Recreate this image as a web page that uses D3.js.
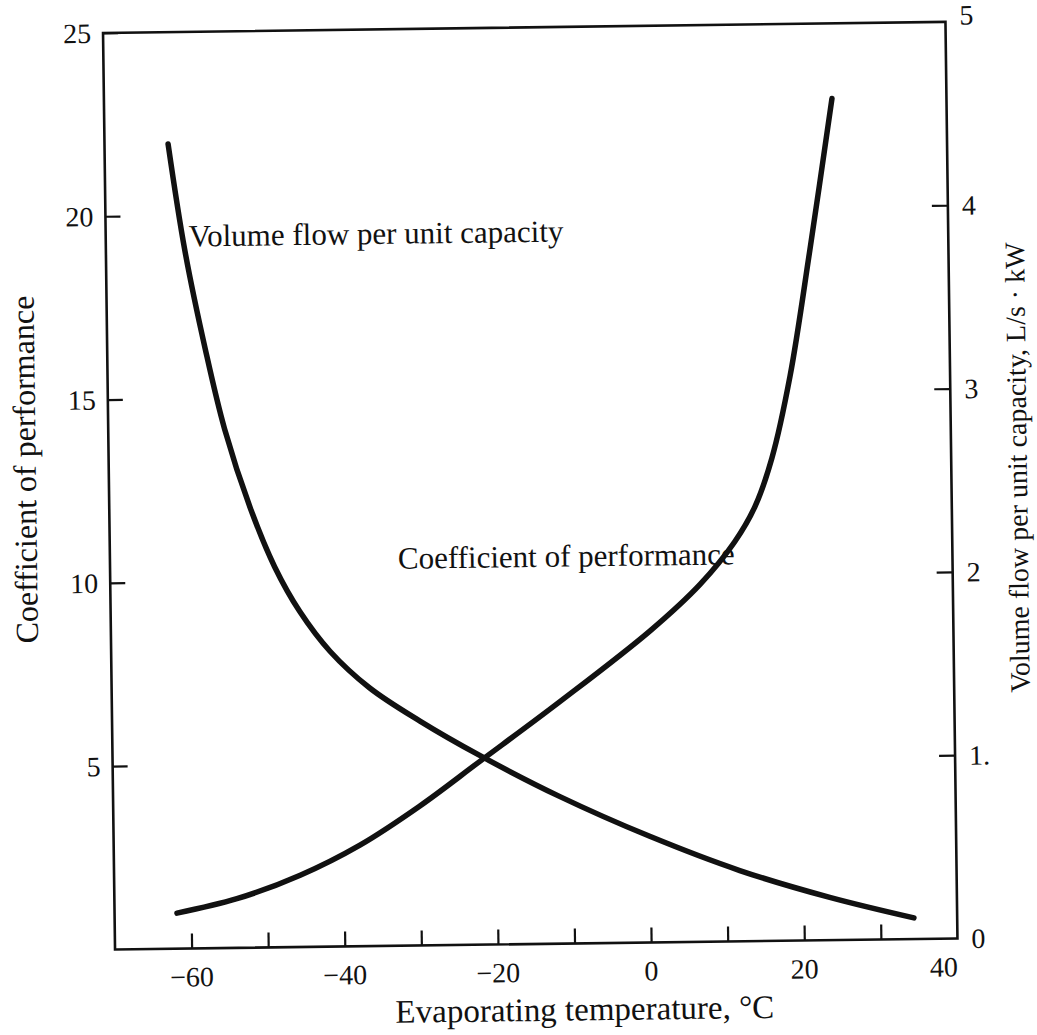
<!DOCTYPE html>
<html>
<head>
<meta charset="utf-8">
<script src="https://cdn.jsdelivr.net/npm/d3@7"></script>
<style>
  html, body { margin: 0; padding: 0; background: #fff; }
  svg text { font-family: "Liberation Serif", "Times New Roman", serif; fill: #111; }
</style>
</head>
<body>
<svg id="chart" width="1037" height="1035"></svg>
<script>
// ---- data ----
const xTicks = [-60, -50, -40, -30, -20, -10, 0, 10, 20, 30];
const xLabels = [-60, -40, -20, 0, 20, 40];
const leftTicks = [5, 10, 15, 20, 25];
const rightTicks = [0, 1, 2, 3, 4, 5];

// Coefficient of performance (left axis)
const copTemp = [-61.85, -54.0, -45.7, -37.85, -30.0, -22.05, -11.5, 0.4, 7.0, 11.6, 14.3, 16.6, 19.1, 21.9, 25.05];
const copValue = [0.97, 1.34, 1.96, 2.76, 3.80, 5.00, 6.60, 8.50, 9.75, 10.90, 11.85, 13.17, 15.39, 18.82, 22.95];

// Volume flow per unit capacity, L/s·kW (right axis)
const volTemp = [-61.7, -59.7, -57.2, -54.8, -51.6, -48.5, -45.3, -41.4, -36.3, -29.8, -22.0, -11.65, 0.0, 11.7, 23.4, 34.35];
const volValue = [4.39, 3.81, 3.27, 2.83, 2.40, 2.075, 1.83, 1.61, 1.408, 1.224, 1.031, 0.802, 0.579, 0.386, 0.233, 0.115];

// ---- layout ----
const svg = d3.select("#chart");
const L = 109, R = 951.5, T = 27.4, B = 944;
const g = svg.append("g").attr("transform", "rotate(-0.75, 530, 486)");

const x = d3.scaleLinear().domain([-70, 40]).range([L, R]);
const yL = d3.scaleLinear().domain([0, 25]).range([B, T]);
const yR = d3.scaleLinear().domain([0, 5]).range([B, T]);

const tickFont = 28;

// bottom axis (ticks point inward)
const ax = g.append("g").attr("transform", `translate(0,${B})`)
  .call(d3.axisBottom(x).tickValues(xTicks).tickSizeInner(-15).tickSizeOuter(0).tickFormat(""));
ax.select(".domain").remove();
ax.selectAll(".tick line").attr("stroke", "#111").attr("stroke-width", 2.2);

g.selectAll(".xlab").data(xLabels).join("text")
  .attr("class", "xlab")
  .attr("x", d => x(d))
  .attr("y", B + 38)
  .attr("text-anchor", d => d === 40 ? "end" : "middle")
  .attr("font-size", tickFont)
  .text(d => d < 0 ? "\u2212" + Math.abs(d) : String(d));

// left axis
const al = g.append("g").attr("transform", `translate(${L},0)`)
  .call(d3.axisLeft(yL).tickValues(leftTicks).tickSizeInner(-15).tickSizeOuter(0).tickFormat(""));
al.select(".domain").remove();
al.selectAll(".tick line").attr("stroke", "#111").attr("stroke-width", 2.2);
g.selectAll(".ylab").data(leftTicks).join("text")
  .attr("class", "ylab")
  .attr("x", L - 12).attr("y", d => yL(d))
  .attr("dy", "0.35em")
  .attr("text-anchor", "end")
  .attr("font-size", tickFont)
  .text(d => d);

// right axis
const ar = g.append("g").attr("transform", `translate(${R},0)`)
  .call(d3.axisRight(yR).tickValues(rightTicks.filter(d => d > 0 && d < 5)).tickSizeInner(-16).tickSizeOuter(0).tickFormat(""));
ar.select(".domain").remove();
ar.selectAll(".tick line").attr("stroke", "#111").attr("stroke-width", 2.2);
g.selectAll(".rlab").data(rightTicks).join("text")
  .attr("class", "rlab")
  .attr("x", R + 14).attr("y", d => yR(d))
  .attr("dy", d => d === 5 ? "0.1em" : "0.35em")
  .attr("text-anchor", "start")
  .attr("font-size", tickFont)
  .text(d => d === 1 ? "1." : d);

// frame
g.append("rect").attr("x", L).attr("y", T).attr("width", R - L).attr("height", B - T)
  .attr("fill", "none").attr("stroke", "#111").attr("stroke-width", 2.6);

// curves
const copData = copTemp.map((t, i) => [t, copValue[i]]);
const volData = volTemp.map((t, i) => [t, volValue[i]]);

g.append("path").datum(copData)
  .attr("fill", "none").attr("stroke", "#111").attr("stroke-width", 5.5).attr("stroke-linecap", "round")
  .attr("d", d3.line().x(d => x(d[0])).y(d => yL(d[1])).curve(d3.curveCatmullRom.alpha(0.5)));

g.append("path").datum(volData)
  .attr("fill", "none").attr("stroke", "#111").attr("stroke-width", 5.5).attr("stroke-linecap", "round")
  .attr("d", d3.line().x(d => x(d[0])).y(d => yR(d[1])).curve(d3.curveCatmullRom.alpha(0.5)));

// in-plot labels
g.append("text").attr("x", 192).attr("y", 242).attr("font-size", 31)
  .text("Volume flow per unit capacity");
g.append("text").attr("x", 397).attr("y", 567).attr("font-size", 31)
  .text("Coefficient of performance");

// axis titles
g.append("text").attr("transform", "translate(36,463) rotate(-90)")
  .attr("text-anchor", "middle").attr("font-size", 32)
  .text("Coefficient of performance");
g.append("text").attr("transform", "translate(1027,474) rotate(-90)")
  .attr("text-anchor", "middle").attr("font-size", 28)
  .text("Volume flow per unit capacity, L/s \u00B7 kW");
g.append("text").attr("x", 578).attr("y", 1021)
  .attr("text-anchor", "middle").attr("font-size", 33)
  .text("Evaporating temperature, \u00B0C");
</script>
</body>
</html>
